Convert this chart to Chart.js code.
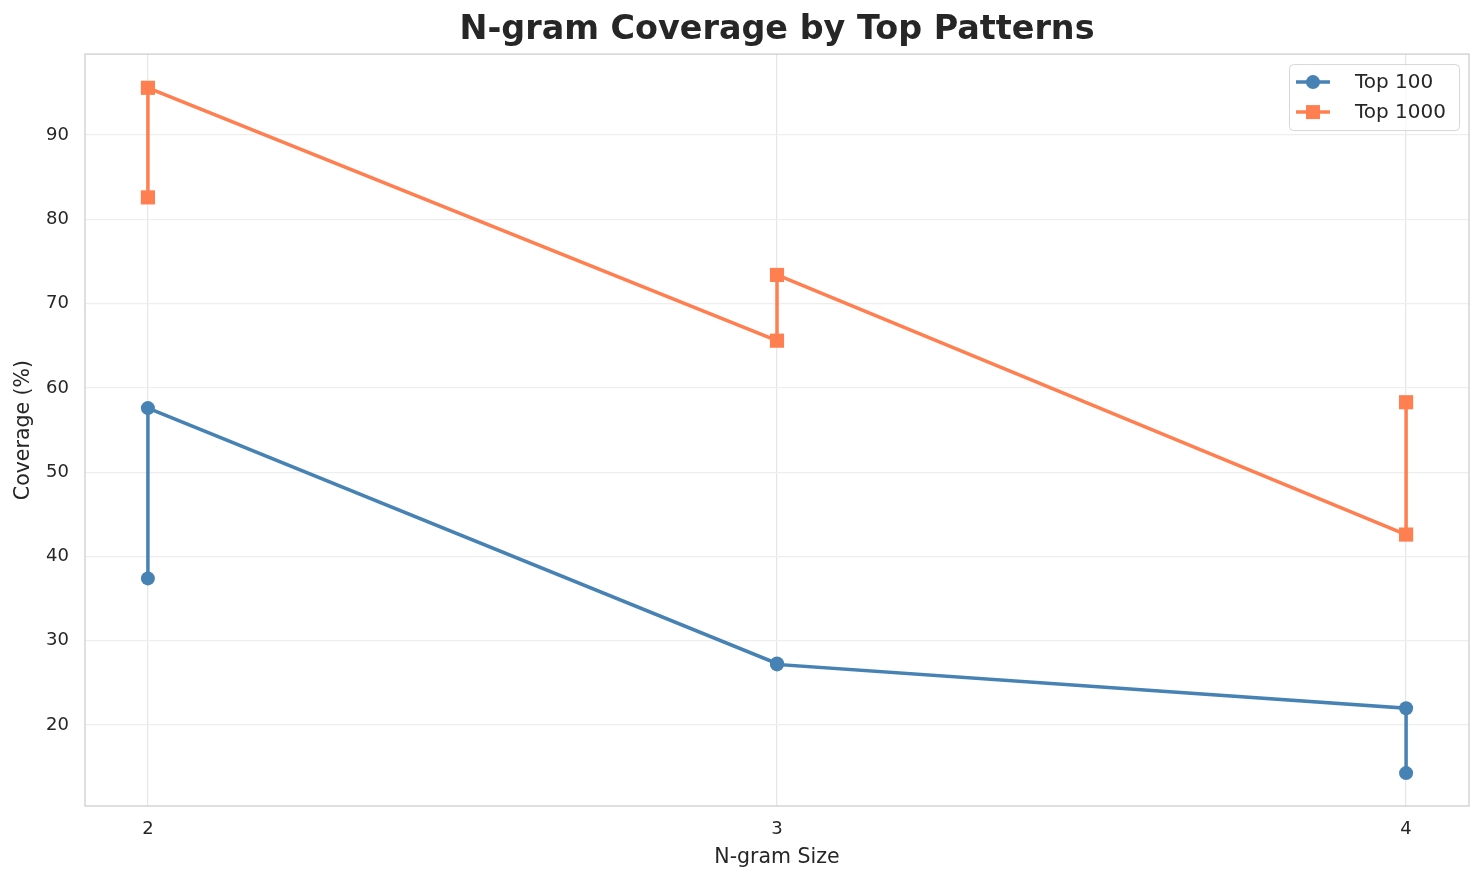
<!DOCTYPE html>
<html>
<head>
<meta charset="utf-8">
<script src="https://cdn.jsdelivr.net/npm/chart.js@4/dist/chart.umd.min.js"></script>
<style>
  body { margin: 0; background: #fff; }
  #wrap { width: 1484px; height: 885px; }
</style>
</head>
<body>
<div id="wrap"><canvas id="chart"></canvas></div>
<script>
// n-gram sizes, each plotted twice in the original order
const ngramSize = [2, 2, 3, 3, 4, 4];
const top100 = [37.4, 57.6, 27.3, 27.2, 22.0, 14.3];
const top1000 = [82.6, 95.6, 65.6, 73.4, 42.6, 58.3];
const xTicks = [2, 3, 4];
const yTicks = [20, 30, 40, 50, 60, 70, 80, 90];

const toPoints = (xs, ys) => xs.map((x, i) => ({ x: x, y: ys[i] }));
const FONT = 'DejaVu Sans';
const INK = '#262626';

// seaborn whitegrid style frame round the plot
const framePlugin = {
    id: 'frame',
    afterDraw(chart) {
        const a = chart.chartArea, ctx = chart.ctx;
        ctx.save();
        ctx.strokeStyle = '#cccccc';
        ctx.lineWidth = 1.25;
        ctx.strokeRect(a.left, a.top, a.right - a.left, a.bottom - a.top);
        ctx.restore();
    }
};

// legend inside the plot, top right, matplotlib-like
const legendPlugin = {
    id: 'innerLegend',
    afterDraw(chart) {
        const a = chart.chartArea, ctx = chart.ctx;
        const w = 170, h = 66;
        const x0 = a.right - 10 - w, y0 = a.top + 10;
        ctx.save();
        ctx.fillStyle = 'rgba(255,255,255,0.8)';
        ctx.strokeStyle = '#d6d6d6';
        ctx.lineWidth = 1;
        ctx.beginPath();
        ctx.roundRect(x0 + 0.5, y0 + 0.5, w, h, 4);
        ctx.fill();
        ctx.stroke();
        ctx.font = '20px ' + FONT;
        ctx.textBaseline = 'middle';
        chart.data.datasets.forEach((ds, i) => {
            const cy = y0 + 18 + i * 30;
            ctx.strokeStyle = ds.borderColor;
            ctx.lineWidth = 3.5;
            ctx.beginPath();
            ctx.moveTo(x0 + 7, cy);
            ctx.lineTo(x0 + 41, cy);
            ctx.stroke();
            ctx.fillStyle = ds.borderColor;
            if (ds.pointStyle === 'rect') {
                ctx.fillRect(x0 + 24 - 7, cy - 7, 14, 14);
            } else {
                ctx.beginPath();
                ctx.arc(x0 + 24, cy, 7, 0, Math.PI * 2);
                ctx.fill();
            }
            ctx.fillStyle = INK;
            ctx.fillText(ds.label, x0 + 66, cy + 1);
        });
        ctx.restore();
    }
};

new Chart(document.getElementById('chart'), {
    type: 'scatter',
    data: {
        datasets: [
            {
                label: 'Top 100',
                data: toPoints(ngramSize, top100),
                showLine: true,
                borderColor: '#4682B4',
                backgroundColor: '#4682B4',
                borderWidth: 3.5,
                pointStyle: 'circle',
                pointRadius: 7,
                pointBorderWidth: 0,
                pointHoverRadius: 7
            },
            {
                label: 'Top 1000',
                data: toPoints(ngramSize, top1000),
                showLine: true,
                borderColor: '#FF7F50',
                backgroundColor: '#FF7F50',
                borderWidth: 3.5,
                pointStyle: 'rect',
                pointRadius: 10,
                pointBorderWidth: 0,
                pointHoverRadius: 10
            }
        ]
    },
    options: {
        responsive: true,
        maintainAspectRatio: false,
        animation: false,
        layout: { padding: { left: 0, right: 15, top: 0, bottom: 0 } },
        plugins: {
            legend: { display: false },
            tooltip: { enabled: false },
            title: {
                display: true,
                fullSize: false,
                text: 'N-gram Coverage by Top Patterns',
                color: INK,
                font: { family: FONT, size: 33.4, weight: 'bold' },
                padding: { top: 10, bottom: 4 }
            }
        },
        scales: {
            x: {
                type: 'linear',
                min: 1.9,
                max: 4.1,
                afterBuildTicks: (s) => { s.ticks = xTicks.map(v => ({ value: v })); },
                afterFit: (s) => { s.height = 79; },
                ticks: { color: INK, font: { family: FONT, size: 18 }, padding: 13 },
                grid: { color: '#e6e6e6', lineWidth: 1.25, drawTicks: false },
                border: { display: false },
                title: {
                    display: true,
                    text: 'N-gram Size',
                    color: INK,
                    font: { family: FONT, size: 20.5 },
                    padding: { top: 4, bottom: 15 }
                }
            },
            y: {
                min: 10.4,
                max: 99.6,
                afterBuildTicks: (s) => { s.ticks = yTicks.map(v => ({ value: v })); },
                afterFit: (s) => { s.width = 85; },
                ticks: { color: INK, font: { family: FONT, size: 18 }, padding: 16 },
                grid: { color: '#eeeeee', lineWidth: 1.25, drawTicks: false },
                border: { display: false },
                title: {
                    display: true,
                    text: 'Coverage (%)',
                    color: INK,
                    font: { family: FONT, size: 20.5 },
                    padding: { top: 11, bottom: 4 }
                }
            }
        }
    },
    plugins: [framePlugin, legendPlugin]
});
</script>
</body>
</html>
